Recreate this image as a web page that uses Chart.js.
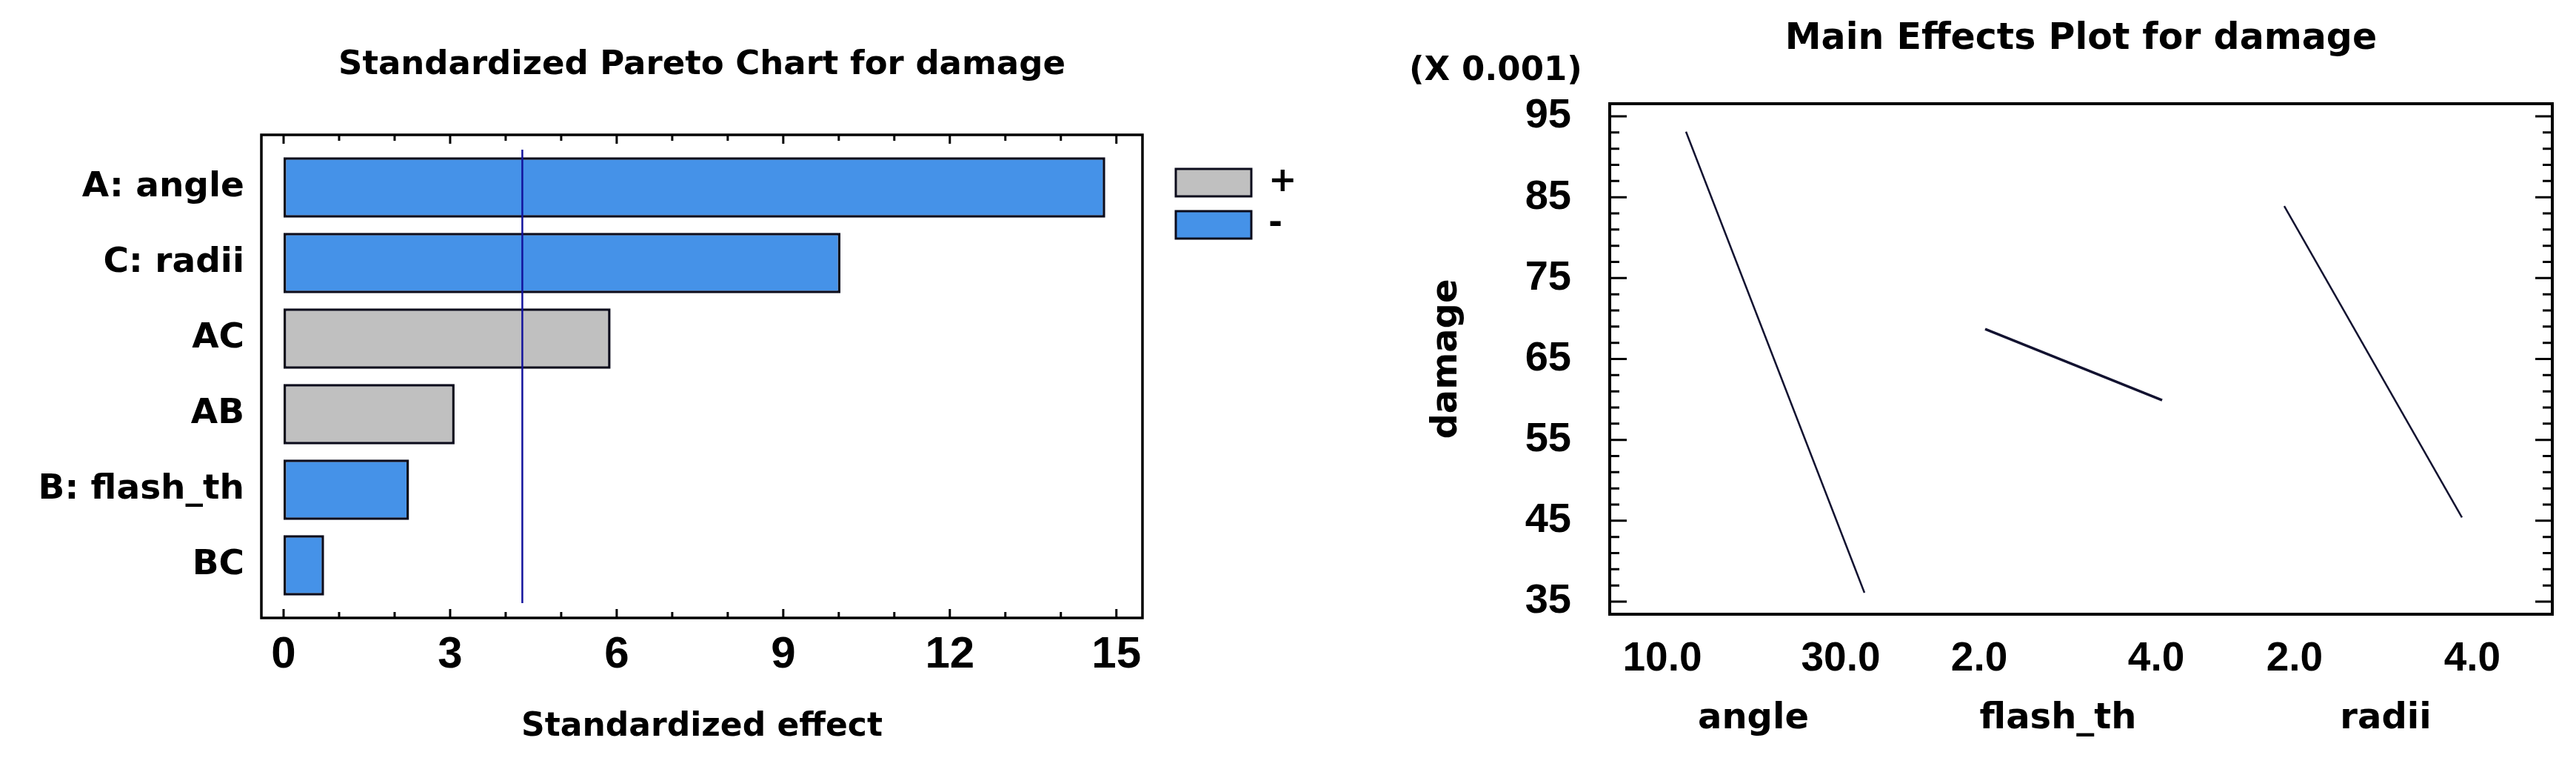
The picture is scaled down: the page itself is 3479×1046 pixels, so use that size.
<!DOCTYPE html>
<html>
<head>
<meta charset="utf-8">
<script src="https://cdn.jsdelivr.net/npm/chart.js@4.4.1/dist/chart.umd.min.js"></script>
<style>
  html, body { margin: 0; padding: 0; background: #ffffff; }
  #wrap { position: relative; width: 3479px; height: 1046px; overflow: hidden; background: #ffffff; }
  #pareto { position: absolute; left: 0; top: 0; }
  #effects { position: absolute; left: 1903px; top: 0; }
</style>
</head>
<body>
<div id="wrap">
  <canvas id="pareto" width="1760" height="1046"></canvas>
  <canvas id="effects" width="1576" height="1046"></canvas>
</div>
<script>
// ---------------- data ----------------
const paretoTitle = 'Standardized Pareto Chart for damage';
const paretoAxisTitle = 'Standardized effect';
const effectLabels = ['A: angle', 'C: radii', 'AC', 'AB', 'B: flash_th', 'BC'];
const effectValues = [14.8, 10.03, 5.89, 3.08, 2.26, 0.73];
const effectSigns = ['-', '-', '+', '+', '-', '-'];
const legendSigns = ['+', '-'];
const criticalValue = 4.30;
const paretoTicks = [0, 3, 6, 9, 12, 15];

const effectsTitle = 'Main Effects Plot for damage';
const effectsScaleNote = '(X 0.001)';
const responseName = 'damage';
const factorNames = ['angle', 'flash_th', 'radii'];
const angleLevels = [10.0, 30.0];
const flashLevels = [2.0, 4.0];
const radiiLevels = [2.0, 4.0];
const angleMeans = [93.1, 36.1];
const flashMeans = [68.7, 59.9];
const radiiMeans = [83.9, 45.4];
const damageTicks = [35, 45, 55, 65, 75, 85, 95];

// ---------------- styles ----------------
const POS_COLOR = '#c0c0c0';
const NEG_COLOR = '#4592e8';
const BAR_EDGE = '#0c0c1c';
const REF_LINE = '#12129c';
const EFFECT_LINE = '#121230';
const WORD_FONT = 'DejaVu Sans';
const NUM_FONT = 'Liberation Sans';
const NARROW_NUM_FONT = "'Liberation Sans Narrow', 'Liberation Sans'";
const signColor = s => (s === '+' ? POS_COLOR : NEG_COLOR);

Chart.defaults.color = '#000';
Chart.defaults.font.family = WORD_FONT;
Chart.defaults.font.weight = 'bold';
Chart.defaults.animation = false;

// fix an axis box size and drop the label-overflow padding Chart.js adds
const fixBox = (w, h) => s => {
  if (w !== null) s.width = w;
  if (h !== null) s.height = h;
  s.paddingLeft = 0; s.paddingRight = 0; s.paddingTop = 0; s.paddingBottom = 0;
};

// ---------------- plugins ----------------
const paretoDecor = {
  id: 'paretoDecor',
  afterLayout(chart) {
    const lg = chart.legend;
    if (lg) { lg.left += 34; lg.right += 34; lg.top += 10.5; lg.bottom += 10.5; }
  },
  afterDatasetsDraw(chart) {
    const { ctx, chartArea: a, scales: { x } } = chart;
    const px = x.getPixelForValue(criticalValue);
    ctx.save();
    ctx.strokeStyle = REF_LINE;
    ctx.lineWidth = 2.5;
    ctx.beginPath();
    ctx.moveTo(px, a.top);
    ctx.lineTo(px, a.bottom);
    ctx.stroke();
    ctx.restore();
  },
  afterDraw(chart) {
    const { ctx, chartArea: a, scales: { x } } = chart;
    const pad = 20;
    const top = a.top - pad, bottom = a.bottom + pad;
    ctx.save();
    ctx.strokeStyle = '#000';
    ctx.lineWidth = 3.5;
    ctx.strokeRect(a.left, top, a.right - a.left, bottom - top);
    ctx.lineWidth = 3;
    ctx.beginPath();
    const first = paretoTicks[0], last = paretoTicks[paretoTicks.length - 1];
    for (let v = first; v <= last; v += 1) {
      const major = paretoTicks.includes(v);
      const len = major ? 12 : 8;
      const p = x.getPixelForValue(v);
      ctx.moveTo(p, bottom); ctx.lineTo(p, bottom - len);
      ctx.moveTo(p, top); ctx.lineTo(p, top + len);
    }
    ctx.stroke();
    ctx.restore();
  }
};

const effectsDecor = {
  id: 'effectsDecor',
  afterDraw(chart) {
    const { ctx, chartArea: a } = chart;
    const y = chart.scales.y;
    ctx.save();
    ctx.strokeStyle = '#000';
    ctx.lineWidth = 4;
    ctx.strokeRect(a.left, a.top, a.right - a.left, a.bottom - a.top);
    ctx.lineWidth = 3;
    ctx.beginPath();
    for (let v = damageTicks[0]; v <= y.max; v += 2) {
      const major = damageTicks.includes(v);
      const len = major ? 23 : 13;
      const p = y.getPixelForValue(v);
      ctx.moveTo(a.left, p); ctx.lineTo(a.left + len, p);
      ctx.moveTo(a.right, p); ctx.lineTo(a.right - len, p);
    }
    ctx.stroke();
    ctx.restore();
  }
};

// ---------------- Pareto chart ----------------
new Chart(document.getElementById('pareto'), {
  type: 'bar',
  data: {
    labels: effectLabels,
    datasets: [{
      data: effectValues,
      backgroundColor: effectSigns.map(signColor),
      borderColor: BAR_EDGE,
      borderWidth: 3.5,
      borderSkipped: false,
      barPercentage: 0.8,
      categoryPercentage: 1.0
    }]
  },
  options: {
    indexAxis: 'y',
    responsive: false,
    devicePixelRatio: 1,
    animation: false,
    layout: { padding: { left: 0, right: 32.5, top: 0, bottom: 0 }, autoPadding: false },
    plugins: {
      tooltip: { enabled: false },
      title: {
        display: true, text: paretoTitle, fullSize: false,
        font: { family: WORD_FONT, size: 45, weight: 'bold' },
        padding: { top: 61, bottom: 87 }, color: '#000'
      },
      legend: {
        display: true, position: 'right', align: 'start', fullSize: false,
        labels: {
          boxWidth: 102, boxHeight: 37, padding: 11,
          font: { family: WORD_FONT, size: 46, weight: 'bold' }, color: '#000',
          generateLabels: () => legendSigns.map(s => ({
            text: s, fillStyle: signColor(s), strokeStyle: BAR_EDGE, lineWidth: 3, hidden: false
          }))
        }
      }
    },
    scales: {
      x: {
        type: 'linear', min: -0.4, max: 15.47,
        afterBuildTicks: s => { s.ticks = paretoTicks.map(v => ({ value: v })); },
        grid: { display: false, drawTicks: false },
        border: { display: false },
        ticks: {
          font: { family: NARROW_NUM_FONT, size: 60, weight: 'bold' },
          padding: 34.5, maxRotation: 0, autoSkip: false, color: '#000'
        },
        title: {
          display: true, text: paretoAxisTitle,
          font: { family: WORD_FONT, size: 44, weight: 'bold' },
          padding: { top: 0, bottom: 37.6 }, color: '#000'
        },
        afterFit: fixBox(null, 232)
      },
      y: {
        type: 'category',
        grid: { display: false, drawTicks: false },
        border: { display: false },
        ticks: { font: { family: WORD_FONT, size: 47, weight: 'bold' }, padding: 23, color: '#000' },
        afterFit: fixBox(353, null)
      }
    }
  },
  plugins: [paretoDecor]
});

// ---------------- Main effects chart ----------------
function factorAxis(name, levels, min, max, weight, labelOffset) {
  return {
    type: 'linear', position: 'bottom', stack: 'factors', stackWeight: weight,
    min: min, max: max,
    afterBuildTicks: s => { s.ticks = levels.map(v => ({ value: v })); },
    grid: { display: false, drawTicks: false },
    border: { display: false },
    ticks: {
      font: { family: NUM_FONT, size: 55, weight: 'bold' },
      padding: 27.4, labelOffset: labelOffset, maxRotation: 0, autoSkip: false, color: '#000',
      callback: v => Number(v).toFixed(1)
    },
    title: {
      display: true, text: name,
      font: { family: WORD_FONT, size: 48, weight: 'bold' },
      padding: { top: 0, bottom: 47 }, color: '#000'
    },
    afterFit: fixBox(null, 217)
  };
}

const effectLine = (axisId, levels, means, width) => ({
  xAxisID: axisId, yAxisID: 'y',
  data: levels.map((lv, i) => ({ x: lv, y: means[i] })),
  borderColor: EFFECT_LINE, borderWidth: width,
  pointRadius: 0, fill: false, tension: 0
});

new Chart(document.getElementById('effects'), {
  type: 'line',
  data: {
    datasets: [
      effectLine('xA', angleLevels, angleMeans, 2.5),
      effectLine('xB', flashLevels, flashMeans, 3.5),
      effectLine('xC', radiiLevels, radiiMeans, 2.5)
    ]
  },
  options: {
    responsive: false,
    devicePixelRatio: 1,
    animation: false,
    layout: { padding: { left: 0, right: 32, top: 0, bottom: 0 }, autoPadding: false },
    plugins: {
      tooltip: { enabled: false },
      legend: { display: false },
      title: {
        display: true, text: effectsTitle, fullSize: false,
        font: { family: WORD_FONT, size: 49, weight: 'bold', lineHeight: 0.8 },
        padding: { top: 34, bottom: 0 }, color: '#000'
      },
      subtitle: {
        display: true, text: effectsScaleNote, fullSize: true, align: 'start',
        font: { family: WORD_FONT, size: 45, weight: 'bold', lineHeight: 0.8 },
        padding: { top: 4.9, bottom: 25.9 }, color: '#000'
      }
    },
    scales: {
      xA: factorAxis(factorNames[0], angleLevels, 1.452, 33.65, 388, -32),
      xB: factorAxis(factorNames[1], flashLevels, 1.004, 4.644, 435, -8),
      xC: factorAxis(factorNames[2], radiiLevels, 1.267, 5.017, 450, 14),
      y: {
        type: 'linear', position: 'left', min: 33.44, max: 96.56,
        afterBuildTicks: s => { s.ticks = damageTicks.map(v => ({ value: v })); },
        grid: { display: false, drawTicks: false },
        border: { display: false },
        ticks: {
          font: { family: NUM_FONT, size: 56, weight: 'bold' },
          padding: 52, color: '#000', callback: v => String(v)
        },
        title: {
          display: true, text: responseName,
          font: { family: WORD_FONT, size: 48, weight: 'bold' },
          padding: { top: 23, bottom: 0 }, color: '#000'
        },
        afterFit: fixBox(271, null)
      }
    }
  },
  plugins: [effectsDecor]
});
</script>
</body>
</html>
